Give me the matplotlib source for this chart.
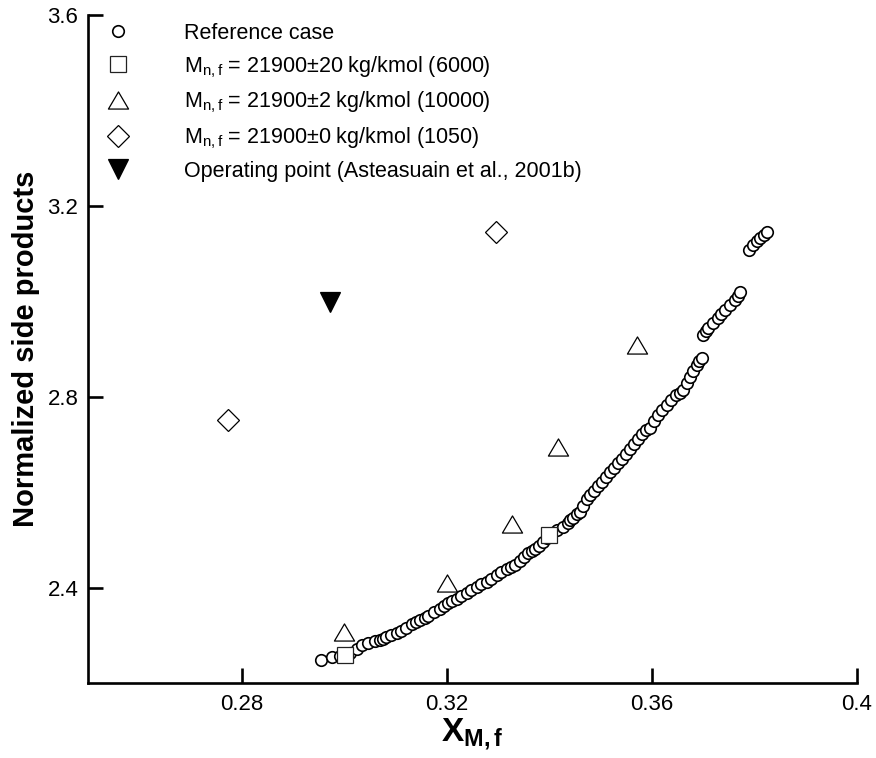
import matplotlib
matplotlib.use("Agg")
import matplotlib.pyplot as plt
from matplotlib.path import Path

plt.rcParams['font.family'] = ['Liberation Sans', 'DejaVu Sans']
plt.rcParams['mathtext.fontset'] = 'custom'
plt.rcParams['mathtext.rm'] = 'Liberation Sans'
plt.rcParams['mathtext.it'] = 'Liberation Sans'
plt.rcParams['mathtext.bf'] = 'Liberation Sans:bold'

# Reference case (many optimisation points)
ref_x = [0.29547, 0.29755, 0.29917, 0.30112, 0.30249, 0.30341, 0.30470, 0.30600, 0.30698, 0.30756,
         0.30815, 0.30913, 0.31024, 0.31108, 0.31205, 0.31317, 0.31400, 0.31478, 0.31576, 0.31640,
         0.31752, 0.31869, 0.31947, 0.32031, 0.32103, 0.32195, 0.32279, 0.32390, 0.32474, 0.32585,
         0.32669, 0.32780, 0.32864, 0.32975, 0.33059, 0.33170, 0.33254, 0.33332, 0.33430, 0.33508,
         0.33592, 0.33664, 0.33723, 0.33801, 0.33885, 0.33957, 0.34054, 0.34152, 0.34275, 0.34367,
         0.34405, 0.34470, 0.34542, 0.34601, 0.34659, 0.34731, 0.34796, 0.34874, 0.34952, 0.35030,
         0.35108, 0.35186, 0.35264, 0.35342, 0.35420, 0.35498, 0.35576, 0.35654, 0.35732, 0.35810,
         0.35888, 0.35965, 0.36042, 0.36128, 0.36201, 0.36292, 0.36376, 0.36474, 0.36552, 0.36616,
         0.36688, 0.36747, 0.36805, 0.36878, 0.36922, 0.36975, 0.37007, 0.37059, 0.37104, 0.37196,
         0.37299, 0.37352, 0.37430, 0.37528, 0.37625, 0.37684, 0.37723, 0.37904, 0.37982, 0.38054,
         0.38113, 0.38191, 0.38255]
ref_y = [2.2482, 2.2539, 2.2566, 2.2629, 2.2713, 2.2796, 2.2845, 2.2870, 2.2901, 2.2922,
         2.2958, 2.2996, 2.3042, 2.3090, 2.3147, 2.3237, 2.3279, 2.3320, 2.3362, 2.3404,
         2.3478, 2.3545, 2.3614, 2.3671, 2.3719, 2.3754, 2.3813, 2.3880, 2.3949, 2.4018,
         2.4075, 2.4123, 2.4190, 2.4264, 2.4316, 2.4383, 2.4431, 2.4473, 2.4557, 2.4641,
         2.4718, 2.4767, 2.4802, 2.4871, 2.4962, 2.5039, 2.5144, 2.5207, 2.5276, 2.5354,
         2.5416, 2.5458, 2.5542, 2.5590, 2.5710, 2.5857, 2.5940, 2.6024, 2.6129, 2.6213,
         2.6318, 2.6422, 2.6506, 2.6611, 2.6695, 2.6800, 2.6905, 2.7009, 2.7114, 2.7219,
         2.7303, 2.7339, 2.7491, 2.7617, 2.7722, 2.7827, 2.7932, 2.8036, 2.8078, 2.8141,
         2.8288, 2.8420, 2.8540, 2.8665, 2.8749, 2.8806, 2.9294, 2.9378, 2.9434, 2.9545,
         2.9644, 2.9734, 2.9818, 2.9923, 3.0028, 3.0111, 3.0202, 3.1076, 3.1180, 3.1264,
         3.1321, 3.1390, 3.1459]

sq_x = [0.3002, 0.3400]
sq_y = [2.258, 2.510]

tri_x = [0.3000, 0.3201, 0.3327, 0.3417, 0.3571]
tri_y = [2.307, 2.410, 2.533, 2.694, 2.908]

dia_x = [0.2773, 0.3297]
dia_y = [2.751, 3.145]

op_x = [0.2972]
op_y = [2.999]

labels = ["Reference case",
          r"M$_{\mathregular{n,f}}$ = 21900$\pm$20 kg/kmol (6000)",
          r"M$_{\mathregular{n,f}}$ = 21900$\pm$2 kg/kmol (10000)",
          r"M$_{\mathregular{n,f}}$ = 21900$\pm$0 kg/kmol (1050)",
          "Operating point (Asteasuain et al., 2001b)"]

xticks = [0.28, 0.32, 0.36, 0.4]
xticklabels = ["0.28", "0.32", "0.36", "0.4"]
yticks = [2.4, 2.8, 3.2, 3.6]
yticklabels = ["2.4", "2.8", "3.2", "3.6"]

fig = plt.figure(figsize=(8.76, 7.58), dpi=100)
ax = fig.add_axes([88/876, 75/758, 768.7/876, 668/758])

tri_marker = Path([(-1, -0.85), (1, -0.85), (0, 0.85), (-1, -0.85)],
                  [Path.MOVETO, Path.LINETO, Path.LINETO, Path.CLOSEPOLY])

ax.plot(ref_x, ref_y, linestyle='none', marker='o', ms=8.3, mfc='white', mec='black', mew=1.2,
        label=labels[0])
ax.plot(sq_x, sq_y, linestyle='none', marker='s', ms=12, mfc='white', mec='#222222', mew=0.9,
        label=labels[1])
ax.plot(tri_x, tri_y, linestyle='none', marker=tri_marker, ms=14.5, mfc='white', mec='black', mew=0.9,
        label=labels[2])
ax.plot(dia_x, dia_y, linestyle='none', marker='D', ms=11.5, mfc='white', mec='black', mew=0.9,
        label=labels[3])
ax.plot(op_x, op_y, linestyle='none', marker='v', ms=14, mfc='black', mec='black', mew=0.9,
        label=labels[4])

ax.set_xlim(0.25, 0.4)
ax.set_ylim(2.2, 3.6)
ax.set_xticks(xticks)
ax.set_xticklabels(xticklabels)
ax.set_yticks(yticks)
ax.set_yticklabels(yticklabels)

for s in ['top', 'right']:
    ax.spines[s].set_visible(False)
for s in ['left', 'bottom']:
    ax.spines[s].set_linewidth(1.9)
ax.tick_params(direction='in', length=11, width=1.9, labelsize=16)
ax.tick_params(axis='x', pad=8)
ax.tick_params(axis='y', pad=7)

ax.set_ylabel("Normalized side products", fontsize=21, fontweight='bold', labelpad=5)
ax.set_xlabel(r"$\mathbf{X_{M,f}}$", fontsize=24, labelpad=1)

leg = ax.legend(loc='upper left', bbox_to_anchor=(0.011, 0.988), frameon=False, fontsize=15.5,
                borderpad=0, borderaxespad=0, handlelength=2, handletextpad=2.05,
                labelspacing=0.47, numpoints=1)

fig.savefig("out.png", dpi=100)
